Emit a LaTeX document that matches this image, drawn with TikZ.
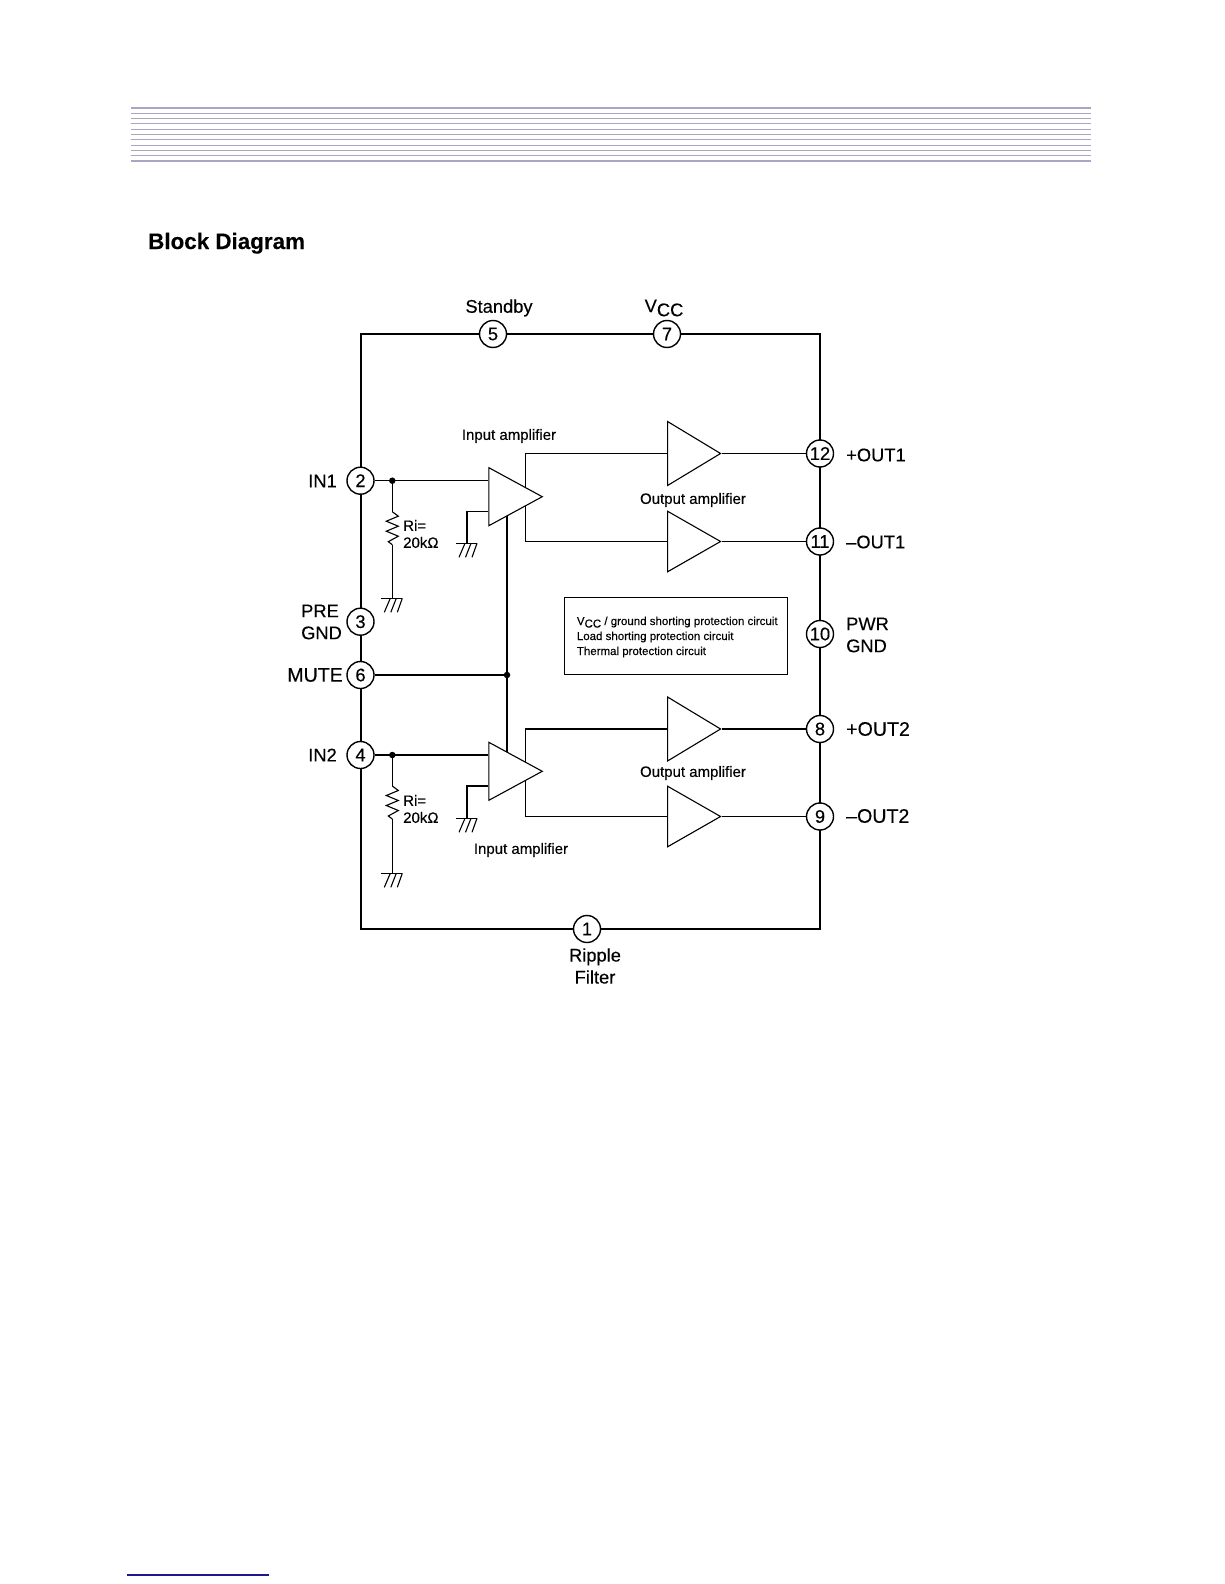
\documentclass[tikz,border=0pt]{standalone}
\usepackage{fontspec}
\setmainfont[FakeBold=0.25]{Liberation Sans}
\usetikzlibrary{shapes.geometric}
\definecolor{rulecol}{HTML}{A9A5C4}
\definecolor{footcol}{HTML}{1A1A8C}
\newcommand{\sub}[1]{\raisebox{-0.22em}{#1}}
\tikzset{
  x=1pt, y=-1pt,
  chip/.style   = {draw, line width=2.4pt},
  pin/.style    = {circle, draw, line width=1.4pt, fill=white, minimum size=27pt, inner sep=0, font=\fontsize{18.3}{20}\selectfont},
  inamp/.style  = {isosceles triangle, isosceles triangle stretches, draw, line width=1.1pt, fill=white, inner sep=0, anchor=lower side, minimum width=58pt, minimum height=53.4pt},
  outamp/.style = {isosceles triangle, isosceles triangle stretches, draw, line width=1.1pt, fill=white, inner sep=0, anchor=lower side, minimum width=64pt, minimum height=53pt},
  wire/.style   = {line width=1.1pt},
  outwire/.style= {line width=1.5pt},
  junct/.style  = {circle, fill=black, minimum size=6.5pt, inner sep=0},
  lab/.style    = {font=\fontsize{18.3}{22}\selectfont, inner sep=0},
  labwide/.style= {font=\fontsize{19.6}{22}\selectfont, inner sep=0},
  small/.style  = {font=\fontsize{15}{17}\selectfont, inner sep=0},
  tiny/.style   = {font=\fontsize{11.5}{15}\selectfont, inner sep=0, anchor=base west},
  rule/.style   = {rulecol, line width=1pt},
  rulethick/.style = {rulecol, line width=2pt},
  gnd/.pic = {
    \draw[wire] (-11,0) -- (10,0);
    \draw[wire] (-2,0) -- (-8,14) (4,0) -- (-1.5,14) (10,0) -- (5,14);
  },
  zig/.pic = {
    \draw[wire] (0,0) -- (6,4.5) -- (-6,9.5) -- (6,14.5) -- (-6,19.5) -- (6,24.5) -- (-4,30) -- (0,33);
  }
}

\begin{document}
\begin{tikzpicture}
  \useasboundingbox (0,0) rectangle (1224,1584);

  % header rules
  \foreach \yy in {113.3,118.3,123.3,129.3,134.3,139.3,145.3,150.3,155.3}
    \draw[rule] (131,\yy) -- (1091,\yy);
  \draw[rulethick] (131,107.7) -- (1091,107.7);
  \draw[rulethick] (131,160.7) -- (1091,160.7);
  \draw[footcol, line width=1.3pt] (127,1575) -- (269,1575);

  \node[anchor=base west, inner sep=0, font=\fontsize{22.4}{24}\selectfont\bfseries] (title) at (148,249) {Block Diagram};

  % chip outline
  \draw[chip] (361,334) rectangle (820,929);

  % pins
  \node[pin] (p1)  at (587,929)   {1};
  \node[pin] (p2)  at (360.5,480.7) {2};
  \node[pin] (p3)  at (360.5,621.7) {3};
  \node[pin] (p4)  at (360.5,755) {4};
  \node[pin] (p5)  at (493,334)   {5};
  \node[pin] (p6)  at (360.5,675) {6};
  \node[pin] (p7)  at (667,334)   {7};
  \node[pin] (p8)  at (820,729)   {8};
  \node[pin] (p9)  at (820,816.5) {9};
  \node[pin] (p10) at (820,634)   {10};
  \node[pin] (p11) at (820,541.5) {11};
  \node[pin] (p12) at (820,453.5) {12};

  % output amplifiers
  \node[outamp] (oa1) at (667,453.5) {};
  \node[outamp, minimum width=60.6pt] (oa2) at (667,541.5) {};
  \node[outamp] (oa3) at (667,729) {};
  \node[outamp, minimum width=60.6pt] (oa4) at (667,816.5) {};
  \draw[outwire] (oa1.apex) -- (p12);
  \draw[outwire] (oa2.apex) -- (p11);
  \draw[outwire] (oa3.apex) -- (p8);
  \draw[outwire] (oa4.apex) -- (p9);

  % taps behind the input amplifiers
  \coordinate (t1) at (525.3,496.7);
  \coordinate (t2) at (525.3,771.3);
  \draw[outwire] (oa1.lower side) -| (t1) |- (oa2.lower side);
  \draw[outwire] (oa3.lower side) -| (t2) |- (oa4.lower side);
  \coordinate (m1) at (507,497);
  \coordinate (m2) at (507,771);
  \draw[wire] (m1) -- (m2);

  % input amplifiers
  \node[inamp] (ia1) at (488.3,496.7) {};
  \node[inamp] (ia2) at (488.3,771.3) {};

  % inputs
  \node[junct] (j1) at (392.3,480.7) {};
  \node[junct] (j2) at (392.3,755) {};
  \node[junct] (j3) at (507,675) {};
  \draw[wire] (p2) -- (p2 -| ia1.lower side);
  \draw[wire] (p4) -- (p4 -| ia2.lower side);
  \draw[wire] (p6) -- (j3);

  % input resistors
  \coordinate (r1a) at (392.3,511.7);
  \coordinate (r1b) at (392.3,544.7);
  \coordinate (g1)  at (392.3,598.3);
  \coordinate (r2a) at (392.3,786);
  \coordinate (r2b) at (392.3,819);
  \coordinate (g2)  at (392.3,873.3);
  \draw[wire] (j1) -- (r1a);
  \pic at (r1a) {zig};
  \draw[wire] (r1b) -- (g1);
  \pic at (g1) {gnd};
  \draw[wire] (j2) -- (r2a);
  \pic at (r2a) {zig};
  \draw[wire] (r2b) -- (g2);
  \pic at (g2) {gnd};

  % feedback grounds
  \coordinate (g3) at (467,543.3);
  \coordinate (g4) at (467,818.3);
  \draw[wire] (g3) |- (488.3,511.3);
  \pic at (g3) {gnd};
  \draw[wire] (g4) |- (488.3,786);
  \pic at (g4) {gnd};

  % protection box
  \node[draw, line width=1.1pt, minimum width=223.4pt, minimum height=77pt, inner sep=0] (prot) at (676,635.8) {};
  \node[tiny] (pt1) at (576.7,625) {V\sub{CC} / ground shorting protection circuit};
  \node[tiny] (pt2) at (576.7,640) {Load shorting protection circuit};
  \node[tiny] (pt3) at (576.7,655) {Thermal protection circuit};

  % pin labels
  \node[lab] (l5)  at (499,308) {Standby};
  \node[lab] (l7)  at (664,308) {V\sub{CC}};
  \node[lab, anchor=east] (l2) at (337,481) {IN1};
  \node[lab, anchor=east] (l4) at (337,755) {IN2};
  \node[labwide, anchor=east] (l6) at (343,675) {MUTE};
  \node[lab, align=left, anchor=west] (l3) at (301,622) {PRE\\GND};
  \node[lab, align=left, anchor=west] (l10) at (846,635) {PWR\\GND};
  \node[lab, anchor=west] (l12) at (846,455) {+OUT1};
  \node[lab, anchor=west] (l11) at (846,542) {--OUT1};
  \node[labwide, anchor=west] (l8)  at (846,729) {+OUT2};
  \node[labwide, anchor=west] (l9)  at (846,816) {--OUT2};
  \node[lab, align=center] (l1) at (595,966) {Ripple\\Filter};

  % amplifier labels
  \node[small] (a1) at (509,436) {Input amplifier};
  \node[small] (a2) at (693,500) {Output amplifier};
  \node[small] (a3) at (693,773) {Output amplifier};
  \node[small] (a4) at (521,850) {Input amplifier};
  \node[small, anchor=west, align=left] (ri1) at (403,534) {Ri=\\20kΩ};
  \node[small, anchor=west, align=left] (ri2) at (403,809) {Ri=\\20kΩ};
\end{tikzpicture}
\end{document}
